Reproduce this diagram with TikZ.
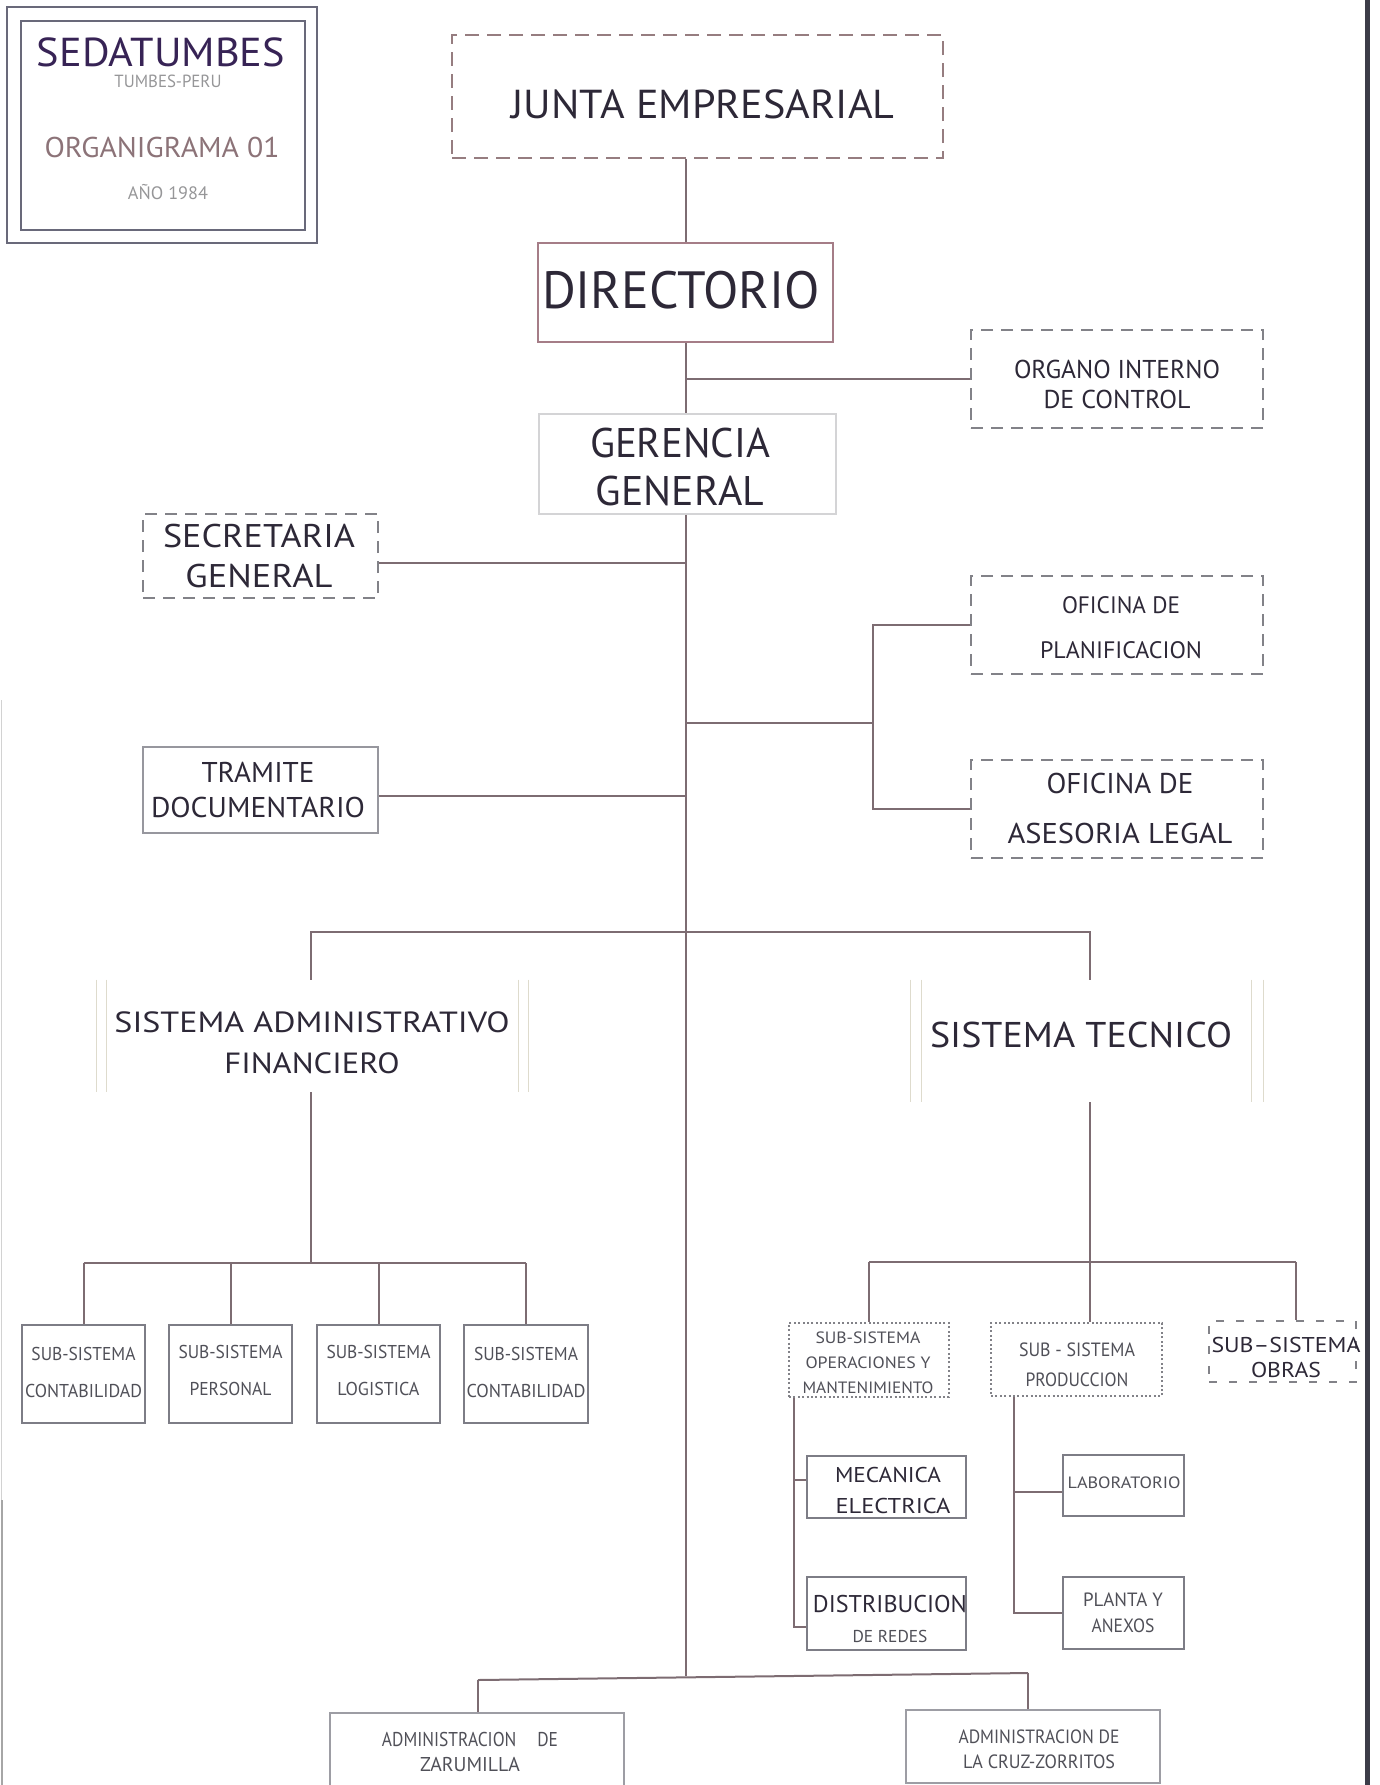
\documentclass[tikz,border=0pt]{standalone}
\usepackage{fontspec}
\setmainfont{PT Sans}
\usepackage{graphicx}
\usetikzlibrary{fit}

% set a line of text to a given width (pt) keeping its height
\newcommand\fw[2]{\resizebox{#1pt}{\height}{#2}}
\newcommand\fsz[2]{\fontsize{#1}{#2}\selectfont}

\definecolor{ink}{RGB}{45,40,55}
\definecolor{inksoft}{RGB}{80,80,88}
\definecolor{brand}{RGB}{55,35,85}
\definecolor{mauvetxt}{RGB}{140,115,120}
\definecolor{greytxt}{RGB}{150,150,152}
\definecolor{conn}{RGB}{125,108,114}
\definecolor{juntac}{RGB}{150,125,128}
\definecolor{dirc}{RGB}{165,125,135}
\definecolor{gerc}{RGB}{212,212,214}
\definecolor{dashc}{RGB}{130,130,136}
\definecolor{boxc}{RGB}{125,125,134}
\definecolor{titlec}{RGB}{105,105,122}
\definecolor{faintc}{RGB}{222,219,205}
\definecolor{edgec}{RGB}{60,60,72}

\tikzset{
  frame/.style={draw, inner sep=0pt, line width=0.9pt},
  solidbox/.style={frame, draw=boxc},
  dashbox/.style={frame, draw=dashc, line width=0.75pt, dash pattern=on 6pt off 4pt},
  dotbox/.style={frame, draw=dashc, line width=0.8pt, dash pattern=on 1pt off 1.2pt},
  openbox/.style={inner sep=0pt, draw=none},
  lbl/.style={align=center, inner sep=0pt, text=ink},
  sublbl/.style={lbl, text=inksoft},
  wire/.style={draw=conn, line width=1pt},
  faintedge/.style={draw=faintc, line width=0.8pt},
}

\begin{document}
\begin{tikzpicture}[x=0.5pt,y=-0.5pt]
\useasboundingbox (0,0) rectangle (1380,1785);
\begin{scope}
\clip (0,0) rectangle (1380,1785);

% ---------- title block ----------
\node[frame, draw=titlec, line width=1pt, fit={(7,7) (317,243)}] (title-out) {};
\node[frame, draw=titlec, line width=1.2pt, fit={(21,21) (305,230)}] (title-in) {};
\node[lbl, text=brand, font=\fsz{20.2}{24}] (t-sed) at (161,52.5) {\fw{124}{SEDATUMBES}};
\node[lbl, text=greytxt, font=\fsz{8.8}{10}] (t-tum) at (168,81) {\fw{53.5}{TUMBES-PERU}};
\node[lbl, text=mauvetxt, font=\fsz{14.3}{17}] (t-org) at (162,147) {\fw{117.5}{ORGANIGRAMA 01}};
\node[lbl, text=greytxt, font=\fsz{9}{11}] (t-ano) at (168,192) {\fw{40}{AÑO 1984}};

% ---------- boxes ----------
\node[frame, draw=juntac, line width=0.9pt, dash pattern=on 7pt off 4pt, fit={(452,35) (943,158)}] (junta) {};
\node[frame, draw=dirc, line width=1pt, fit={(538,243) (833,342)}] (dir) {};
\node[dashbox, fit={(971,330) (1263,428)}] (organo) {};
\node[frame, draw=gerc, line width=0.9pt, fit={(539,414) (836,514)}] (ger) {};
\node[dashbox, fit={(143,514) (378,598)}] (sec) {};
\node[dashbox, fit={(971,576) (1263,674)}] (planif) {};
\node[dashbox, fit={(971,760) (1263,858)}] (ases) {};
\node[solidbox, draw=boxc!80, fit={(143,747) (378,833)}] (tra) {};
\node[openbox, fit={(97,980) (528,1092)}] (sa) {};
\node[openbox, fit={(911,980) (1263,1102)}] (st) {};
\node[solidbox, fit={(22,1325) (145,1423)}] (s1) {};
\node[solidbox, fit={(169,1325) (292,1423)}] (s2) {};
\node[solidbox, fit={(317,1325) (440,1423)}] (s3) {};
\node[solidbox, fit={(464,1325) (588,1423)}] (s4) {};
\node[dotbox, fit={(789,1323) (949,1397)}] (oper) {};
\node[dotbox, fit={(991,1323) (1162,1396)}] (prod) {};
\node[frame, draw=dashc, line width=0.7pt, dash pattern=on 4pt off 6pt, fit={(1209,1321) (1356,1382)}] (obras) {};
\node[solidbox, fit={(807,1456) (966,1518)}] (mec) {};
\node[solidbox, fit={(807,1577) (966,1650)}] (dist) {};
\node[solidbox, fit={(1063,1455) (1184,1516)}] (lab) {};
\node[solidbox, fit={(1063,1577) (1184,1649)}] (planta) {};
\node[solidbox, draw=boxc!75, fit={(330,1713) (624,1800)}] (zar) {};
\node[solidbox, draw=boxc!75, fit={(906,1710) (1160,1783)}] (cruz) {};

% faint side rules of the two system boxes
\draw[faintedge] (sa.north west) -- (sa.south west);
\draw[faintedge] ([xshift=5pt]sa.north west) -- ([xshift=5pt]sa.south west);
\draw[faintedge] (sa.north east) -- (sa.south east);
\draw[faintedge] ([xshift=-5pt]sa.north east) -- ([xshift=-5pt]sa.south east);
\draw[faintedge] (st.north west) -- (st.south west);
\draw[faintedge] ([xshift=5.5pt]st.north west) -- ([xshift=5.5pt]st.south west);
\draw[faintedge] (st.north east) -- (st.south east);
\draw[faintedge] ([xshift=-6pt]st.north east) -- ([xshift=-6pt]st.south east);

% ---------- labels ----------
\node[lbl, font=\fsz{20.2}{24}] (t-junta) at (703,104) {\fw{191.5}{JUNTA EMPRESARIAL}};
\node[lbl, font=\fsz{26.2}{30}] (t-dir) at (681,290) {\fw{139}{DIRECTORIO}};
\node[lbl, font=\fsz{12.9}{15}] (t-organo) at (1117,384) {\fw{103}{ORGANO INTERNO}\\\fw{73.5}{DE CONTROL}};
\node[lbl, font=\fsz{20.7}{24}] (t-ger) at (680,466.5) {\fw{90}{GERENCIA}\\\fw{84}{GENERAL}};
\node[lbl, font=\fsz{16.4}{20}] (t-sec) at (259,556.5) {\fw{96}{SECRETARIA}\\\fw{73.5}{GENERAL}};
\node[lbl, font=\fsz{11.9}{22.5}] (t-planif) at (1121,627.5) {\fw{59}{OFICINA DE}\\\fw{81}{PLANIFICACION}};
\node[lbl, font=\fsz{14.3}{25}] (t-ases) at (1120,808) {\fw{73.5}{OFICINA DE}\\\fw{112.5}{ASESORIA LEGAL}};
\node[lbl, font=\fsz{14.3}{17.5}] (t-tra) at (258,789.5) {\fw{56.5}{TRAMITE}\\\fw{107}{DOCUMENTARIO}};
\node[lbl, font=\fsz{14.6}{20.5}] (t-sa) at (312,1042.5) {\fw{197.5}{SISTEMA ADMINISTRATIVO}\\\fw{87.5}{FINANCIERO}};
\node[lbl, font=\fsz{17.9}{21}] (t-st) at (1081,1034.5) {\fw{151}{SISTEMA TECNICO}};

\node[sublbl, font=\fsz{9.3}{18.5}] (t-s1) at (s1 |- 0,1372) {\fw{52}{SUB-SISTEMA}\\\fw{58.5}{CONTABILIDAD}};
\node[sublbl, font=\fsz{9.3}{18.5}] (t-s2) at (s2 |- 0,1370) {\fw{52}{SUB-SISTEMA}\\\fw{41}{PERSONAL}};
\node[sublbl, font=\fsz{9.3}{18.5}] (t-s3) at (s3 |- 0,1370) {\fw{52}{SUB-SISTEMA}\\\fw{41}{LOGISTICA}};
\node[sublbl, font=\fsz{9.3}{18.5}] (t-s4) at (s4 |- 0,1372) {\fw{52}{SUB-SISTEMA}\\\fw{59.5}{CONTABILIDAD}};

\node[sublbl, font=\fsz{8.2}{12.5}] (t-oper) at (868,1362.5) {\fw{52.5}{SUB-SISTEMA}\\\fw{62.5}{OPERACIONES Y}\\\fw{65.5}{MANTENIMIENTO}};
\node[sublbl, font=\fsz{9.6}{15}] (t-prod) at (1077,1365) {\fw{58}{SUB - SISTEMA}\\\fw{51.5}{PRODUCCION}};
\node[lbl, font=\fsz{10.7}{12.5}] (t-obras) at (1286,1357) {\fw{74.5}{SUB–SISTEMA}\\\fw{35}{OBRAS}};
\node[lbl, font=\fsz{10.7}{15.5}] (t-mec) at (888,1490) {\fw{53}{MECANICA}\\\hspace*{5pt}\fw{57.5}{ELECTRICA}};
\node[lbl, font=\fsz{12.1}{15}] (t-dist) at (890,1618.5) {\fw{77}{DISTRIBUCION}\\{\fsz{8.6}{15}\color{inksoft}\fw{37.5}{DE REDES}}};
\node[sublbl, font=\fsz{8.2}{10}] (t-lab) at (1124,1482.5) {\fw{56.5}{LABORATORIO}};
\node[sublbl, font=\fsz{9.6}{13}] (t-planta) at (1123,1613) {\fw{40}{PLANTA Y}\\\fw{31.5}{ANEXOS}};
\node[sublbl, font=\fsz{10}{12.5}] (t-zar) at (470,1752) {\fw{88}{ADMINISTRACION\hspace{1.2em}DE}\\\fw{50}{ZARUMILLA}};
\node[sublbl, font=\fsz{9.6}{12.5}] (t-cruz) at (1039,1749.5) {\fw{80.5}{ADMINISTRACION DE}\\\fw{76}{LA CRUZ-ZORRITOS}};

% ---------- connector anchors ----------
\coordinate (tk) at (686,0);
\coordinate (c-sec) at (686,563);
\coordinate (c-tra) at (686,796);
\coordinate (c-of) at (686,723);
\coordinate (c-ofx) at (873,723);
\coordinate (c-sal) at (311,932);
\coordinate (c-sar) at (1090,932);
\coordinate (c-subl) at (311,1263);
\coordinate (c-subr) at (1090,1262);
\coordinate (c-obr) at (1296,1262);
\coordinate (c-mec) at (794,1480);
\coordinate (c-dis) at (794,1627);
\coordinate (c-lab) at (1014,1492);
\coordinate (c-pla) at (1014,1613);
\coordinate (c-bot) at (686,1676);
\coordinate (c-bl) at (478,1680);
\coordinate (c-br) at (1028,1673);

% ---------- connectors ----------
\draw[wire] (junta.south -| tk) -- (dir.north -| tk);
\draw[wire] (dir.south -| tk) -- (ger.north -| tk);
\draw[wire] (organo.west -| tk) -- (organo.west);
\draw[wire] (ger.south -| tk) -- (c-bot);
\draw[wire] (sec.east |- c-sec) -- (c-sec);
\draw[wire] (tra.east |- c-tra) -- (c-tra);
\draw[wire] (c-of) -- (c-ofx);
\draw[wire] (planif.west) -- (planif.west -| c-ofx) -- (ases.west -| c-ofx) -- (ases.west);

\draw[wire] (sa.north -| c-sal) -- (c-sal) -- (c-sar) -- (st.north -| c-sar);
\draw[wire] (sa.south -| c-sal) -- (c-subl);
\draw[wire] (s1.north |- c-subl) -- (s4.north |- c-subl);
\draw[wire] (s1.north |- c-subl) -- (s1.north);
\draw[wire] (s2.north |- c-subl) -- (s2.north);
\draw[wire] (s3.north |- c-subl) -- (s3.north);
\draw[wire] (s4.north |- c-subl) -- (s4.north);

\draw[wire] (st.south -| c-subr) -- (prod.north -| c-subr);
\draw[wire] (oper.north |- c-subr) -- (c-obr);
\draw[wire] (oper.north |- c-subr) -- (oper.north);
\draw[wire] (c-obr) -- (obras.north -| c-obr);

\draw[wire] (oper.south -| c-mec) -- (c-dis) -- (dist.west |- c-dis);
\draw[wire] (c-mec) -- (mec.west |- c-mec);
\draw[wire] (prod.south -| c-lab) -- (c-pla) -- (planta.west |- c-pla);
\draw[wire] (c-lab) -- (lab.west |- c-lab);

\draw[wire] (c-bl) -- (c-br);
\draw[wire] (c-bl) -- (zar.north -| c-bl);
\draw[wire] (c-br) -- (cruz.north -| c-br);

% sheet edges
\draw[line width=2.5pt, draw=edgec] (1367,0) -- (1367,1785);
\draw[line width=0.8pt, draw=gray!35] (1.5,700) -- (1.5,1500);
\draw[line width=1pt, draw=gray!70] (1.5,1500) -- (1.5,1785);
\end{scope}
\end{tikzpicture}
\end{document}
